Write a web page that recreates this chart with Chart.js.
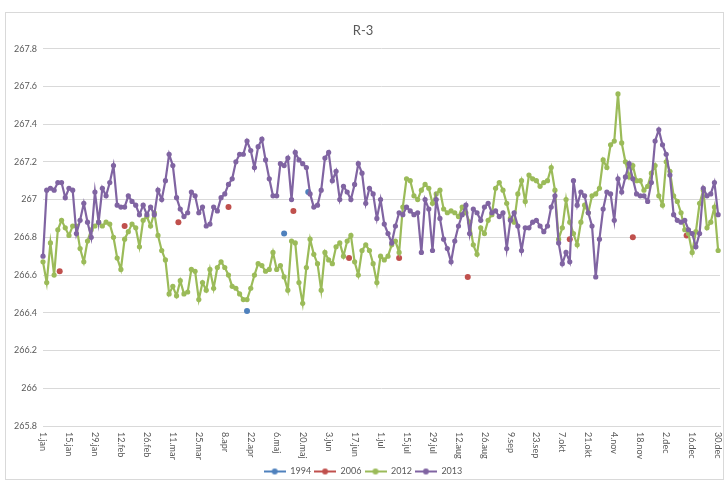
<!DOCTYPE html>
<html>
<head>
<meta charset="utf-8">
<script src="https://cdn.jsdelivr.net/npm/chart.js@4.4.0/dist/chart.umd.min.js"></script>
<style>
  html, body { margin: 0; padding: 0; background: #fff; }
</style>
</head>
<body>
<canvas id="myChart" width="726" height="481"></canvas>
<script>
// categories: every day of the (leap) year, tick label every 14 days
const monthNames = ['jan', 'feb', 'mar', 'apr', 'maj', 'jun', 'jul', 'aug', 'sep', 'okt', 'nov', 'dec'];
const monthDays = [31, 29, 31, 30, 31, 30, 31, 31, 30, 31, 30, 31];
const tickStep = 14;
const days = [];
monthNames.forEach((m, i) => {
    for (let d = 1; d <= monthDays[i]; d++) days.push(d + '.' + m);
});

const sampleStep = 2;
const vals2012 = [
    266.67, 266.56, 266.77, 266.60, 266.84, 266.89, 266.85, 266.81, 266.86, 266.86,
    266.74, 266.67, 266.78, 266.84, 266.86, 266.88, 266.86, 266.88, 266.87, 266.80,
    266.69, 266.63, 266.79, 266.83, 266.87, 266.85, 266.75, 266.89, 266.91, 266.86,
    266.93, 266.81, 266.73, 266.68, 266.50, 266.54, 266.49, 266.57, 266.50, 266.51,
    266.63, 266.62, 266.47, 266.56, 266.52, 266.63, 266.53, 266.64, 266.67, 266.64,
    266.60, 266.54, 266.53, 266.50, 266.47, 266.47, 266.53, 266.60, 266.66, 266.65,
    266.62, 266.63, 266.72, 266.63, 266.65, 266.59, 266.52, 266.78, 266.77, 266.56,
    266.45, 266.64, 266.79, 266.71, 266.66, 266.52, 266.72, 266.68, 266.66, 266.75,
    266.77, 266.70, 266.78, 266.81, 266.67, 266.60, 266.73, 266.76, 266.73, 266.66,
    266.56, 266.70, 266.68, 266.70, 266.76, 266.78, 266.72, 266.96, 267.11, 267.10,
    267.02, 267.00, 267.05, 267.08, 267.06, 266.98, 267.03, 267.05, 266.95, 266.93,
    266.94, 266.93, 266.91, 266.96, 266.93, 266.88, 266.76, 266.71, 266.85, 266.82,
    266.89, 266.92, 267.06, 267.09, 267.05, 266.98, 266.90, 266.88, 267.03, 267.10,
    266.99, 267.13, 267.11, 267.10, 267.07, 267.09, 267.10, 267.17, 267.05, 266.79,
    266.85, 267.00, 266.88, 266.82, 266.76, 266.88, 266.97, 266.93, 267.02, 267.03,
    267.06, 267.21, 267.17, 267.29, 267.31, 267.56, 267.30, 267.20, 267.12, 267.18,
    267.10, 267.10, 267.05, 267.07, 267.14, 267.18, 267.02, 266.97, 267.20, 267.15,
    267.02, 266.99, 266.93, 266.84, 266.82, 266.72, 266.83, 266.98, 267.05, 266.85,
    266.88, 266.96, 266.73
];
const vals2013 = [
    266.70, 267.05, 267.06, 267.05, 267.09, 267.09, 267.01, 267.06, 267.05, 266.82,
    266.89, 266.98, 266.88, 266.80, 267.04, 266.88, 267.06, 267.02, 267.09, 267.18,
    266.97, 266.96, 266.96, 267.02, 266.99, 266.97, 266.92, 266.97, 266.92, 266.96,
    266.92, 267.05, 267.00, 267.10, 267.24, 267.18, 267.01, 266.95, 266.91, 266.93,
    267.04, 267.02, 266.93, 266.96, 266.86, 266.87, 266.96, 266.94, 267.01, 267.03,
    267.08, 267.11, 267.20, 267.24, 267.24, 267.31, 267.26, 267.17, 267.28, 267.32,
    267.21, 267.11, 267.02, 267.02, 267.19, 267.18, 267.22, 267.00, 267.25, 267.21,
    267.19, 267.17, 267.03, 266.96, 266.97, 267.05, 267.22, 267.25, 267.10, 267.15,
    267.00, 267.07, 267.04, 267.00, 267.08, 267.19, 267.14, 266.98, 267.06, 267.03,
    266.90, 267.00, 266.87, 266.82, 266.77, 266.86, 266.93, 266.92, 266.96, 266.94,
    266.92, 266.93, 266.72, 267.00, 266.95, 266.73, 267.00, 266.90, 266.79, 266.74,
    266.67, 266.78, 266.86, 266.92, 266.97, 266.82, 266.95, 266.93, 266.89, 266.96,
    266.98, 266.93, 266.94, 266.91, 266.93, 266.74, 266.89, 266.93, 266.86, 266.73,
    266.85, 266.85, 266.88, 266.89, 266.86, 266.83, 266.86, 266.96, 267.02, 266.77,
    266.66, 266.72, 266.67, 267.10, 266.97, 267.04, 267.02, 266.93, 266.86, 266.59,
    266.79, 266.95, 267.04, 267.03, 266.89, 267.11, 267.04, 267.12, 267.19, 267.11,
    267.03, 267.02, 267.02, 266.99, 267.09, 267.31, 267.37, 267.29, 267.24, 267.13,
    266.92, 266.89, 266.88, 266.89, 266.84, 266.82, 266.75, 266.82, 267.06, 267.02,
    267.03, 267.09, 266.92
];

// single readings
const days1994 = [110, 130, 143];
const vals1994 = [266.41, 266.82, 267.04];
const days2006 = [9, 44, 73, 100, 135, 165, 192, 229, 284, 318, 347];
const vals2006 = [266.62, 266.86, 266.88, 266.96, 266.94, 266.69, 266.69, 266.59, 266.79, 266.80, 266.81];

const seriesNames = ['1994', '2006', '2012', '2013'];
const colors = ['#4F81BD', '#C0504D', '#9BBB59', '#8064A2'];
const textColor = '#595959';
const gridColor = '#d9d9d9';

const sparse = (d, v) => d.map((day, i) => ({ x: days[day], y: v[i] }));
const dense = v => v.map((y, i) => ({ x: days[i * sampleStep], y: y }));

function legendIcon(color) {
    const cv = document.createElement('canvas');
    cv.width = 22; cv.height = 8;
    const g = cv.getContext('2d');
    g.strokeStyle = color; g.lineWidth = 2;
    g.beginPath(); g.moveTo(0, 4); g.lineTo(22, 4); g.stroke();
    g.fillStyle = color;
    g.beginPath(); g.arc(11, 4, 3, 0, Math.PI * 2); g.fill();
    return cv;
}
const icons = colors.map(legendIcon);

// outer frame + x labels rotated clockwise like the original
const frame = {
    id: 'frame',
    beforeDraw(chart) {
        const c = chart.ctx;
        c.save();
        c.fillStyle = '#fff';
        c.fillRect(0, 0, chart.width, chart.height);
        c.strokeStyle = gridColor;
        c.lineWidth = 1;
        c.strokeRect(5.5, 12.5, chart.width - 8, chart.height - 14);
        c.restore();
    },
    afterDraw(chart) {
        const c = chart.ctx, xs = chart.scales.x;
        c.save();
        c.font = '9px Lato';
        c.fillStyle = textColor;
        c.textAlign = 'left';
        c.textBaseline = 'middle';
        for (let i = 0; i < days.length; i += tickStep) {
            c.save();
            c.translate(xs.getPixelForValue(i), xs.top + 6);
            c.rotate(Math.PI / 2);
            c.fillText(days[i], 0, 0);
            c.restore();
        }
        c.restore();
    }
};

const ctx = document.getElementById('myChart').getContext('2d');
const myChart = new Chart(ctx, {
    type: 'line',
    data: {
        labels: days,
        datasets: [{
            label: seriesNames[0],
            data: sparse(days1994, vals1994),
            showLine: false,
            backgroundColor: colors[0],
            borderColor: colors[0],
            pointRadius: 3,
            pointBorderWidth: 0,
            order: 4
        }, {
            label: seriesNames[1],
            data: sparse(days2006, vals2006),
            showLine: false,
            backgroundColor: colors[1],
            borderColor: colors[1],
            pointRadius: 3,
            pointBorderWidth: 0,
            order: 3
        }, {
            label: seriesNames[2],
            data: dense(vals2012),
            backgroundColor: colors[2],
            borderColor: colors[2],
            borderWidth: 2.2,
            pointRadius: 2.6,
            pointBorderWidth: 0,
            tension: 0,
            order: 2
        }, {
            label: seriesNames[3],
            data: dense(vals2013),
            backgroundColor: colors[3],
            borderColor: colors[3],
            borderWidth: 2.2,
            pointRadius: 2.6,
            pointBorderWidth: 0,
            tension: 0,
            order: 1
        }]
    },
    options: {
        responsive: false,
        animation: false,
        layout: { padding: { top: 17, left: 6, right: 6, bottom: -5 } },
        scales: {
            x: {
                ticks: { display: false },
                grid: { display: false },
                border: { display: true, color: gridColor },
                afterFit(s) { s.height = 38; }
            },
            y: {
                min: 265.8,
                max: 267.8,
                ticks: {
                    stepSize: 0.2,
                    color: textColor,
                    font: { size: 9, family: 'Lato' },
                    padding: 6,
                    callback: v => String(Math.round(v * 10) / 10)
                },
                grid: { color: gridColor, drawTicks: false },
                border: { display: false },
                afterFit(s) { s.width = 37; }
            }
        },
        plugins: {
            title: {
                display: true,
                text: 'R-3',
                color: textColor,
                font: { size: 13, family: 'Lato', weight: 'normal' },
                padding: { top: 6, bottom: 10 }
            },
            legend: {
                position: 'bottom',
                labels: {
                    usePointStyle: true,
                    pointStyleWidth: 22,
                    boxHeight: 8,
                    padding: 3,
                    color: textColor,
                    font: { size: 9, family: 'Lato' },
                    generateLabels(chart) {
                        return chart.data.datasets.map((ds, i) => ({
                            text: ds.label,
                            pointStyle: icons[i],
                            fillStyle: ds.borderColor,
                            strokeStyle: ds.borderColor,
                            lineWidth: 0,
                            hidden: false,
                            datasetIndex: i,
                            fontColor: textColor
                        }));
                    }
                }
            },
            tooltip: { enabled: false }
        }
    },
    plugins: [frame]
});
</script>
</body>
</html>
